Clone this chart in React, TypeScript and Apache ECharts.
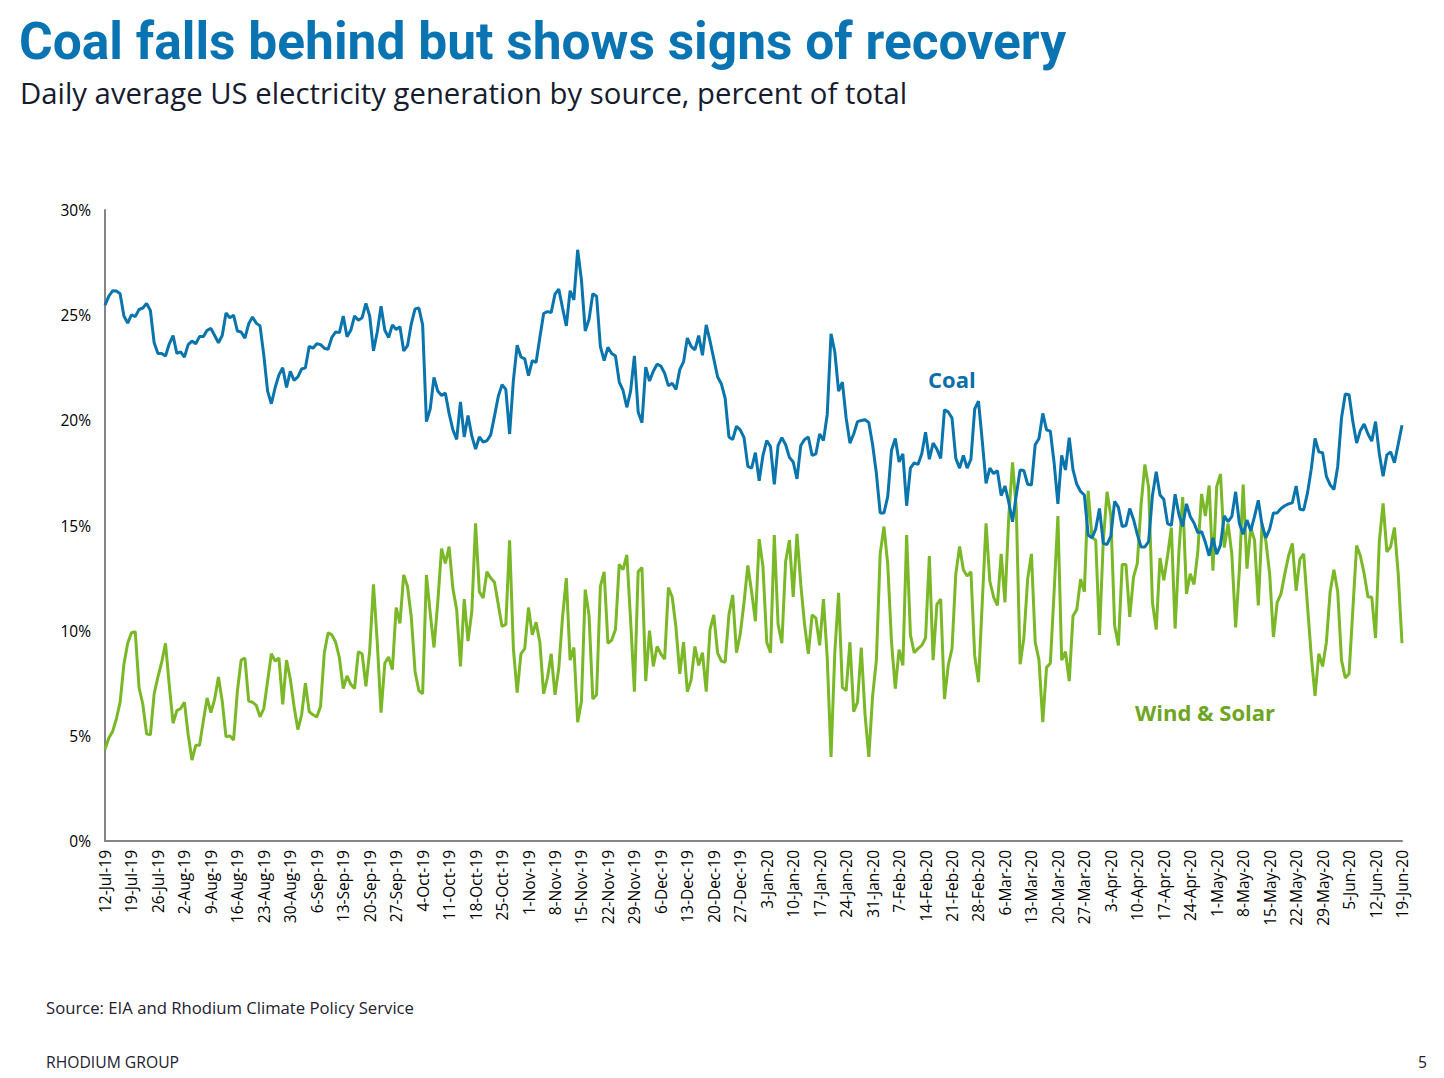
import React, { useEffect, useRef } from "react";
import * as echarts from "echarts";

const START_YEAR = 2019;
const START_MONTH = 6; // July (0-based)
const START_DAY = 12;
const DAY_COUNT = 344;
const MONTHS = ["Jan", "Feb", "Mar", "Apr", "May", "Jun", "Jul", "Aug", "Sep", "Oct", "Nov", "Dec"];

const coal = [
  25.47, 25.9, 26.16, 26.15, 26.02, 24.96, 24.62, 25.02, 24.93, 25.27,
  25.34, 25.56, 25.22, 23.69, 23.18, 23.18, 23.06, 23.64, 24.03, 23.18,
  23.26, 23.01, 23.6, 23.77, 23.64, 23.98, 23.98, 24.28, 24.37, 24.03,
  23.69, 24.03, 25.1, 24.88, 25.0, 24.25, 24.2, 23.91, 24.59, 24.91,
  24.62, 24.49, 23.09, 21.39, 20.79, 21.56, 22.16, 22.5, 21.56, 22.33,
  21.9, 22.07, 22.44, 22.5, 23.52, 23.43, 23.64, 23.6, 23.43, 23.38,
  23.95, 24.2, 24.17, 24.96, 23.98, 24.28, 24.96, 24.76, 24.88, 25.56,
  24.96, 23.31, 24.2, 25.42, 24.28, 23.94, 24.54, 24.32, 24.45, 23.3,
  23.55, 24.59, 25.3, 25.34, 24.54, 19.94, 20.54, 22.04, 21.39, 21.18,
  21.3, 20.33, 19.55, 19.09, 20.88, 19.21, 20.23, 19.26, 18.63, 19.21,
  18.97, 19.03, 19.31, 20.2, 21.13, 21.7, 21.47, 19.35, 21.9, 23.57,
  23.01, 22.92, 22.12, 22.84, 22.75, 23.94, 25.08, 25.17, 25.13, 26.0,
  26.24, 25.34, 24.49, 26.16, 25.73, 28.11, 26.67, 24.25, 24.79, 26.02,
  25.9, 23.52, 22.84, 23.47, 23.18, 23.06, 21.82, 21.42, 20.62, 21.39,
  23.06, 20.4, 19.89, 22.53, 21.87, 22.33, 22.67, 22.58, 22.24, 21.64,
  21.76, 21.47, 22.41, 22.78, 23.91, 23.52, 23.35, 24.03, 23.09, 24.54,
  23.77, 22.92, 22.07, 21.73, 21.05, 19.21, 19.09, 19.72, 19.55, 19.18,
  17.81, 17.73, 18.46, 17.13, 18.33, 19.04, 18.75, 16.96, 18.8, 19.18,
  18.84, 18.24, 18.02, 17.22, 18.8, 19.09, 19.21, 18.33, 18.41, 19.35,
  19.04, 20.28, 24.11, 23.26, 21.39, 21.82, 20.11, 18.92, 19.35, 19.94,
  19.99, 20.03, 19.89, 18.84, 17.47, 15.6, 15.6, 16.37, 18.58, 19.14,
  18.02, 18.41, 15.94, 17.73, 17.98, 17.9, 18.41, 19.43, 18.15, 18.92,
  18.63, 18.19, 20.5, 20.4, 20.11, 18.19, 17.73, 18.33, 17.73, 18.15,
  20.54, 20.91, 19.01, 17.0, 17.73, 17.47, 17.61, 16.42, 16.88, 16.11,
  15.18, 16.45, 17.64, 17.61, 16.96, 16.93, 18.84, 19.14, 20.33, 19.55,
  19.48, 17.98, 16.03, 18.33, 17.64, 19.18, 17.64, 16.96, 16.62, 16.45,
  14.55, 14.41, 14.83, 15.81, 14.15, 14.1, 14.49, 16.15, 15.86, 14.95,
  15.0, 15.81, 15.29, 14.58, 13.98, 13.98, 14.24, 16.42, 17.56, 16.45,
  16.25, 15.09, 15.0, 16.49, 15.52, 14.95, 16.03, 15.43, 15.12, 14.66,
  14.71, 14.2, 13.56, 14.41, 13.64, 14.07, 15.46, 15.18, 15.43, 16.6,
  15.09, 14.58, 15.26, 14.75, 15.43, 16.2, 15.0, 14.41, 14.83, 15.6,
  15.6, 15.81, 15.94, 16.03, 16.08, 16.88, 15.77, 15.74, 16.54, 17.68,
  19.14, 18.5, 18.46, 17.34, 16.93, 16.71, 17.81, 20.11, 21.25, 21.22,
  19.94, 18.92, 19.52, 19.82, 19.35, 19.01, 19.94, 18.41, 17.34, 18.36,
  18.5, 17.98, 18.87, 19.77,
];

const windSolar = [
  4.36, 4.9, 5.2, 5.8, 6.6, 8.4, 9.4, 9.9, 9.95, 7.3,
  6.5, 5.1, 5.05, 7.0, 7.8, 8.5, 9.4, 7.4, 5.6, 6.2,
  6.3, 6.6, 5.05, 3.85, 4.55, 4.55, 5.7, 6.8, 6.1, 6.75,
  7.8, 6.65, 4.95, 5.0, 4.8, 7.1, 8.6, 8.7, 6.65, 6.6,
  6.45, 5.9, 6.3, 7.6, 8.9, 8.55, 8.7, 6.5, 8.6, 7.7,
  6.4, 5.3, 6.0, 7.5, 6.15, 6.0, 5.9, 6.4, 8.95, 9.9,
  9.8, 9.45, 8.7, 7.25, 7.85, 7.45, 7.25, 9.0, 8.9, 7.35,
  9.05, 12.2, 9.45, 6.1, 8.45, 8.75, 8.15, 11.1, 10.35, 12.65,
  12.1, 10.65, 8.05, 7.15, 7.0, 12.65, 10.85, 9.2, 11.35, 13.9,
  13.2, 14.0, 12.0, 11.0, 8.3, 11.5, 9.5, 10.9, 15.1, 11.85,
  11.55, 12.8, 12.5, 12.3, 11.25, 10.2, 10.3, 14.3, 9.15, 7.05,
  8.9, 9.15, 11.1, 9.8, 10.4, 9.45, 7.0, 7.75, 8.9, 6.95,
  8.2, 10.65, 12.5, 8.6, 9.2, 5.65, 6.65, 11.95, 10.75, 6.75,
  6.95, 12.1, 12.8, 9.4, 9.55, 10.05, 13.15, 12.9, 13.6, 10.5,
  7.1, 12.8, 13.0, 7.6, 10.0, 8.3, 9.25, 8.9, 8.65, 12.05,
  11.6, 10.15, 7.95, 9.45, 7.1, 7.65, 9.25, 8.35, 8.95, 7.1,
  10.05, 10.75, 8.95, 8.55, 8.5, 10.75, 11.7, 8.95, 9.85, 11.35,
  13.1, 11.85, 10.45, 14.35, 13.05, 9.45, 8.95, 14.55, 10.3, 9.4,
  13.3, 14.3, 11.6, 14.6, 12.2, 10.3, 8.9, 10.75, 10.6, 9.3,
  11.5, 8.7, 4.0, 8.95, 11.8, 7.3, 7.15, 9.45, 6.15, 6.6,
  9.2, 6.0, 4.0, 6.9, 8.6, 13.65, 14.95, 13.15, 9.45, 7.25,
  9.1, 8.35, 14.55, 9.8, 8.95, 9.15, 9.3, 9.65, 13.55, 8.6,
  11.25, 11.5, 6.75, 8.35, 9.15, 12.7, 14.0, 12.9, 12.6, 12.8,
  8.8, 7.55, 11.35, 15.1, 12.35, 11.6, 11.2, 13.65, 11.35, 15.4,
  18.0, 15.8, 8.4, 9.65, 12.45, 13.65, 9.45, 8.6, 5.65, 8.25,
  8.45, 11.85, 15.45, 8.6, 9.0, 7.6, 10.7, 11.0, 12.45, 11.85,
  16.65, 14.45, 14.3, 9.8, 14.25, 16.6, 15.45, 10.25, 9.3, 13.15,
  13.15, 10.65, 12.55, 13.2, 16.0, 17.9, 16.8, 11.35, 10.05, 13.45,
  12.4, 13.55, 14.9, 10.1, 13.75, 16.35, 11.75, 12.7, 12.2, 13.75,
  16.5, 15.45, 16.9, 12.85, 16.85, 17.45, 13.95, 15.1, 13.64, 10.15,
  12.9, 16.95, 12.95, 14.9, 14.3, 11.2, 15.1, 14.25, 12.7, 9.7,
  11.35, 11.75, 12.7, 13.55, 14.15, 11.9, 13.4, 13.65, 11.2, 8.8,
  6.9, 8.9, 8.3, 9.45, 11.85, 12.9, 11.85, 8.6, 7.75, 7.95,
  11.0, 14.05, 13.55, 12.7, 11.6, 11.6, 9.65, 14.25, 16.05, 13.75,
  14.0, 14.9, 12.7, 9.4,
];

const yTicks = [0, 5, 10, 15, 20, 25, 30];

const TITLE = "Coal falls behind but shows signs of recovery";
const SUBTITLE = "Daily average US electricity generation by source, percent of total";
const SOURCE = "Source: EIA and Rhodium Climate Policy Service";
const FOOTER = "RHODIUM GROUP";
const PAGE = "5";

function buildDates(): string[] {
  const out: string[] = [];
  for (let i = 0; i < DAY_COUNT; i++) {
    const d = new Date(Date.UTC(START_YEAR, START_MONTH, START_DAY + i));
    const yy = String(d.getUTCFullYear()).slice(2);
    out.push(`${d.getUTCDate()}-${MONTHS[d.getUTCMonth()]}-${yy}`);
  }
  return out;
}

const COAL_COLOR = "#0a74ad";
const GREEN_COLOR = "#7ab827";
const AXIS_GREY = "#858585";
const TITLE_FONT = "Roboto";
const TEXT_FONT = "'Open Sans'";
const AXIS_FONT = "Open Sans";

export default function App() {
  const ref = useRef<HTMLDivElement>(null);
  useEffect(() => {
    if (!ref.current) return;
    const chart = echarts.init(ref.current, undefined, { renderer: "svg" });
    const dates = buildDates();
    chart.setOption({
      animation: false,
      backgroundColor: "#ffffff",
      grid: { left: 105, right: 42, top: 210, bottom: 237, containLabel: false },
      xAxis: {
        type: "category",
        data: dates,
        boundaryGap: false,
        axisLine: { show: true, lineStyle: { color: AXIS_GREY, width: 2 } },
        axisTick: { show: false },
        splitLine: { show: false },
        axisLabel: {
          interval: 6,
          rotate: 90,
          margin: 9,
          fontSize: 15.5,
          color: "#000000",
          fontFamily: AXIS_FONT,
        },
      },
      yAxis: {
        type: "value",
        min: yTicks[0],
        max: yTicks[yTicks.length - 1],
        interval: 5,
        axisLine: { show: true, lineStyle: { color: AXIS_GREY, width: 2 } },
        axisTick: { show: false },
        splitLine: { show: false },
        axisLabel: {
          formatter: "{value}%",
          fontSize: 15.5,
          color: "#000000",
          margin: 14,
          fontFamily: AXIS_FONT,
        },
      },
      series: [
        {
          name: "Coal",
          type: "line",
          data: coal,
          showSymbol: false,
          symbol: "none",
          lineStyle: { color: COAL_COLOR, width: 3 },
          z: 3,
        },
        {
          name: "Wind & Solar",
          type: "line",
          data: windSolar,
          showSymbol: false,
          symbol: "none",
          lineStyle: { color: GREEN_COLOR, width: 3 },
          z: 2,
        },
      ],
      graphic: [
        {
          type: "text",
          left: 19,
          top: 15,
          style: { text: TITLE, fill: "#0a74b3", font: `bold 51.5px ${TITLE_FONT}` },
        },
        {
          type: "text",
          left: 20,
          top: 78,
          style: { text: SUBTITLE, fill: "#161b2e", font: `29.3px ${TEXT_FONT}` },
        },
        {
          type: "text",
          left: 928,
          top: 368,
          style: { text: "Coal", fill: "#0a6fa8", font: `bold 22px ${TEXT_FONT}` },
        },
        {
          type: "text",
          left: 1135,
          top: 701,
          style: { text: "Wind & Solar", fill: "#6ea522", font: `bold 22px ${TEXT_FONT}` },
        },
        {
          type: "text",
          left: 46,
          top: 999,
          style: { text: SOURCE, fill: "#1e2130", font: `16.7px ${TEXT_FONT}` },
        },
        {
          type: "text",
          left: 46,
          top: 1054,
          style: { text: FOOTER, fill: "#1e2130", font: `15.7px ${TEXT_FONT}` },
        },
        {
          type: "text",
          right: 17,
          top: 1054,
          style: { text: PAGE, fill: "#1e2130", font: `15.7px ${TEXT_FONT}` },
        },
      ],
    });
    return () => chart.dispose();
  }, []);
  return (
    <div
      ref={ref}
      style={{ position: "fixed", left: 0, top: 0, width: 1444, height: 1078, background: "#fff" }}
    />
  );
}
